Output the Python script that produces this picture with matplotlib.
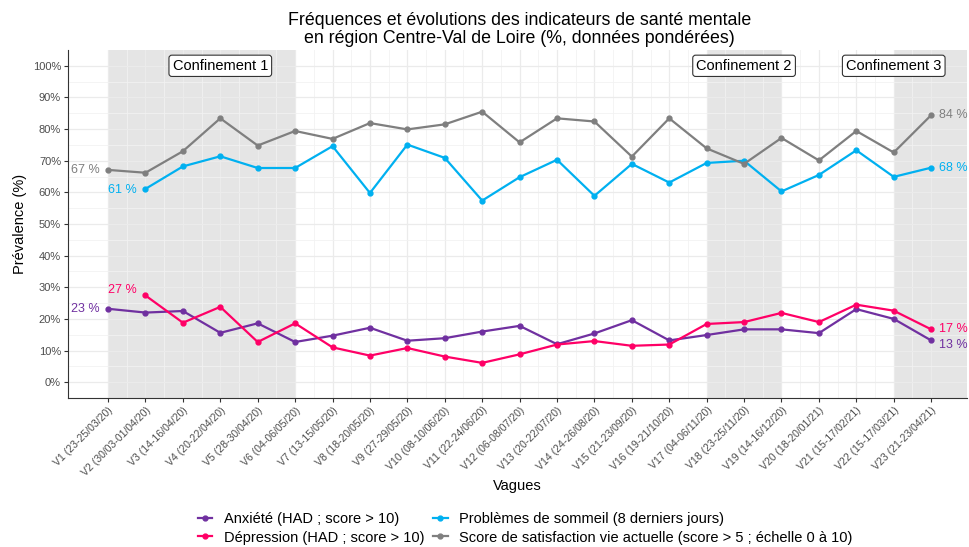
import matplotlib.pyplot as plt
import numpy as np

plt.rcParams['font.family'] = ['Liberation Sans', 'DejaVu Sans']

# Données
vagues = ["V1 (23-25/03/20)", "V2 (30/03-01/04/20)", "V3 (14-16/04/20)", "V4 (20-22/04/20)",
          "V5 (28-30/04/20)", "V6 (04-06/05/20)", "V7 (13-15/05/20)", "V8 (18-20/05/20)",
          "V9 (27-29/05/20)", "V10 (08-10/06/20)", "V11 (22-24/06/20)", "V12 (06-08/07/20)",
          "V13 (20-22/07/20)", "V14 (24-26/08/20)", "V15 (21-23/09/20)", "V16 (19-21/10/20)",
          "V17 (04-06/11/20)", "V18 (23-25/11/20)", "V19 (14-16/12/20)", "V20 (18-20/01/21)",
          "V21 (15-17/02/21)", "V22 (15-17/03/21)", "V23 (21-23/04/21)"]

anxiete = [23.2, 22.0, 22.5, 15.6, 18.6, 12.7, 14.7, 17.2, 13.1, 13.9, 16.0, 17.8,
           12.0, 15.4, 19.6, 13.2, 14.9, 16.7, 16.7, 15.5, 23.1, 20.0, 13.2]
depression = [None, 27.4, 18.8, 23.8, 12.7, 18.6, 11.0, 8.4, 10.8, 8.1, 6.1, 8.8,
              11.9, 13.0, 11.5, 11.9, 18.4, 19.0, 21.9, 19.0, 24.5, 22.6, 16.7]
sommeil = [None, 61.1, 68.2, 71.4, 67.7, 67.7, 74.6, 59.8, 75.1, 70.9, 57.4, 64.8,
           70.3, 58.9, 69.0, 63.1, 69.3, 70.0, 60.3, 65.5, 73.3, 64.9, 67.8]
satisfaction = [67.1, 66.2, 73.0, 83.4, 74.8, 79.4, 76.9, 81.9, 79.9, 81.5, 85.5, 75.8,
                83.4, 82.4, 71.3, 83.4, 73.9, 69.0, 77.2, 70.1, 79.4, 72.6, 84.4]

# périodes de confinement (indices des vagues)
confinements = [("Confinement 1", 0, 5, 3), ("Confinement 2", 16, 18, 17), ("Confinement 3", 21, None, 21)]

series = [
    ("Anxiété (HAD ; score > 10)", anxiete, "#7030A0"),
    ("Dépression (HAD ; score > 10)", depression, "#FF0066"),
    ("Problèmes de sommeil (8 derniers jours)", sommeil, "#00B0F0"),
    ("Score de satisfaction vie actuelle (score > 5 ; échelle 0 à 10)", satisfaction, "#7F7F7F"),
]

fig = plt.figure(figsize=(9.69, 5.47), dpi=100)
ax = fig.add_axes([0.0702, 0.2724, 0.9278, 0.6362])

x = np.arange(len(vagues))
xmin, xmax = -1.07, 22.96
ax.set_xlim(xmin, xmax)
ax.set_ylim(-5, 105)

# zones grisées
for nom, debut, fin, centre in confinements:
    f = fin if fin is not None else xmax
    ax.axvspan(debut, f, color="#E5E5E5", zorder=0, lw=0)
    ax.text(centre, 100, nom, ha="center", va="center", fontsize=10.5, zorder=5,
            bbox=dict(boxstyle="round,pad=0.25,rounding_size=0.2", fc="white", ec="#333333", lw=0.8))

# grille
ax.set_yticks(np.arange(0, 101, 10))
ax.set_yticks(np.arange(5, 101, 10), minor=True)
ax.set_xticks(x)
ax.set_xticks(x[:-1] + 0.5, minor=True)
ax.grid(which="major", color="#EBEBEB", lw=0.9, zorder=1)
ax.grid(which="minor", color="#F2F2F2", lw=0.6, zorder=1)
ax.set_axisbelow(True)

for nom, vals, couleur in series:
    v = np.array([np.nan if a is None else a for a in vals], dtype=float)
    ax.plot(x, v, color=couleur, lw=1.6, marker="o", ms=3.5, label=nom, zorder=3)

# étiquettes début / fin
def etiq(i, vals, couleur, dx, dy, ha):
    ax.annotate(f"{round(vals[i])} %", (x[i], vals[i]), xytext=(dx, dy), textcoords="offset points",
                ha=ha, va="center", color=couleur, fontsize=9)

etiq(0, satisfaction, "#7F7F7F", -6, 0, "right")
etiq(1, sommeil, "#00B0F0", -6, -1, "right")
etiq(0, anxiete, "#7030A0", -6, 0, "right")
etiq(1, depression, "#FF0066", -6, 4, "right")
etiq(22, satisfaction, "#7F7F7F", 6, 0, "left")
etiq(22, sommeil, "#00B0F0", 6, 0, "left")
etiq(22, depression, "#FF0066", 6, 0, "left")
etiq(22, anxiete, "#7030A0", 6, -3, "left")

ax.set_yticklabels([f"{v}%" for v in range(0, 101, 10)], fontsize=8, color="#4D4D4D")
ax.set_xticklabels(vagues, rotation=45, ha="right", rotation_mode="anchor", fontsize=7.6, color="#4D4D4D")
ax.tick_params(which="minor", length=0)
ax.tick_params(which="major", length=3, color="#333333", pad=2)

for s in ["top", "right"]:
    ax.spines[s].set_visible(False)
for s in ["left", "bottom"]:
    ax.spines[s].set_color("#333333")
    ax.spines[s].set_linewidth(0.8)

ax.set_ylabel("Prévalence (%)", fontsize=10.5)
ax.set_xlabel("Vagues", fontsize=10.5, labelpad=1)
fig.suptitle("Fréquences et évolutions des indicateurs de santé mentale\nen région Centre-Val de Loire (%, données pondérées)",
             x=0.536, y=0.978, fontsize=12.8, linespacing=1.1)

fig.legend(loc="center", bbox_to_anchor=(0.542, 0.034), ncol=2, frameon=False, fontsize=10.5,
           handlelength=1.0, columnspacing=0.6, handletextpad=0.8, labelspacing=0.3)

fig.savefig("out.png", dpi=100)
